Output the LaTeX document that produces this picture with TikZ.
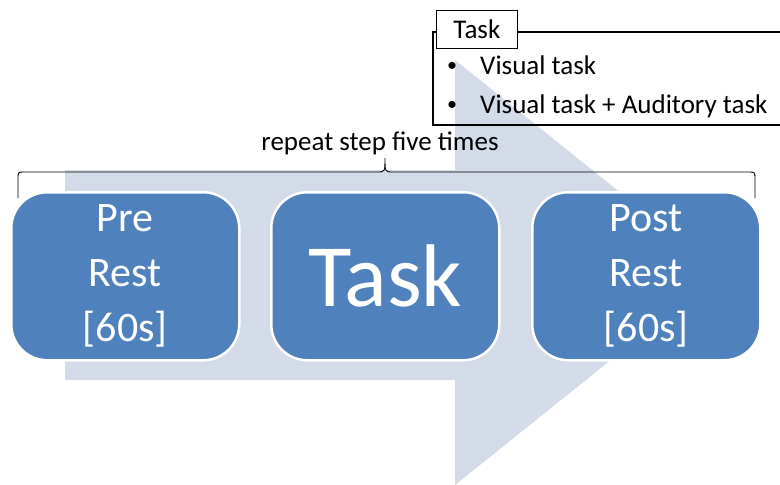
\documentclass[tikz,border=0pt]{standalone}
\usepackage{fontspec}
\setmainfont{Carlito}
\definecolor{boxblue}{RGB}{79,129,189}
\definecolor{arrowblue}{RGB}{211,218,232}
\begin{document}
\begin{tikzpicture}[x=1pt,y=-1pt,
  stepbox/.style={draw=white,line width=2.5pt,fill=boxblue,rounded corners=36pt,
    minimum width=228pt,minimum height=168pt,inner sep=0pt,text=white,align=center,anchor=north west},
  boxtext/.style={font=\fontsize{42}{55}\selectfont},
  smalltext/.style={font=\fontsize{27}{30}\selectfont},
  listtext/.style={smalltext,anchor=base west,inner sep=0pt},
  bullettext/.style={font=\fontsize{20}{24}\selectfont,anchor=base west,inner sep=0pt}]
\useasboundingbox (0,0) rectangle (780,485);
\clip (0,0) rectangle (780,485);
% big arrow
\fill[arrowblue] (65,170) -- (455,170) -- (455,60) -- (720,272.5) -- (455,485) -- (455,380) -- (65,380) -- cycle;
% task list box
\draw[line width=1.5pt] (433,32) rectangle (800,125);
\node[draw,line width=0.8pt,fill=white,minimum width=81pt,minimum height=38pt,anchor=north west,inner sep=0pt,smalltext] (tasklabel) at (436,10) {Task};
\node[bullettext] (b1) at (447,71) {•};
\node[listtext] (l1) at (480,74) {Visual task};
\node[bullettext] (b2) at (447,110) {•};
\node[listtext] (l2) at (480,113) {Visual task + Auditory task};
% brace
\coordinate (bl) at (18,198);
\coordinate (br) at (755,198);
\coordinate (bt) at (385,158);
\draw[line width=0.9pt] (bl) -- (18,179) .. controls (18,172) .. (25,172) -- (377,172) .. controls (385,172) .. (bt)
  .. controls (385,172) .. (393,172) -- (748,172) .. controls (755,172) .. (755,179) -- (br);
\node[smalltext,anchor=base,inner sep=0pt] (rep) at (380,150) {repeat step five times};
% steps
\node[stepbox,boxtext] (pre) at (10,191) {Pre\\Rest\\{[60s]}};
\node[stepbox,font=\fontsize{89}{90}\selectfont] (task) at (270,191) {Task};
\node[stepbox,boxtext] (post) at (531,191) {Post\\Rest\\{[60s]}};
\end{tikzpicture}
\end{document}
